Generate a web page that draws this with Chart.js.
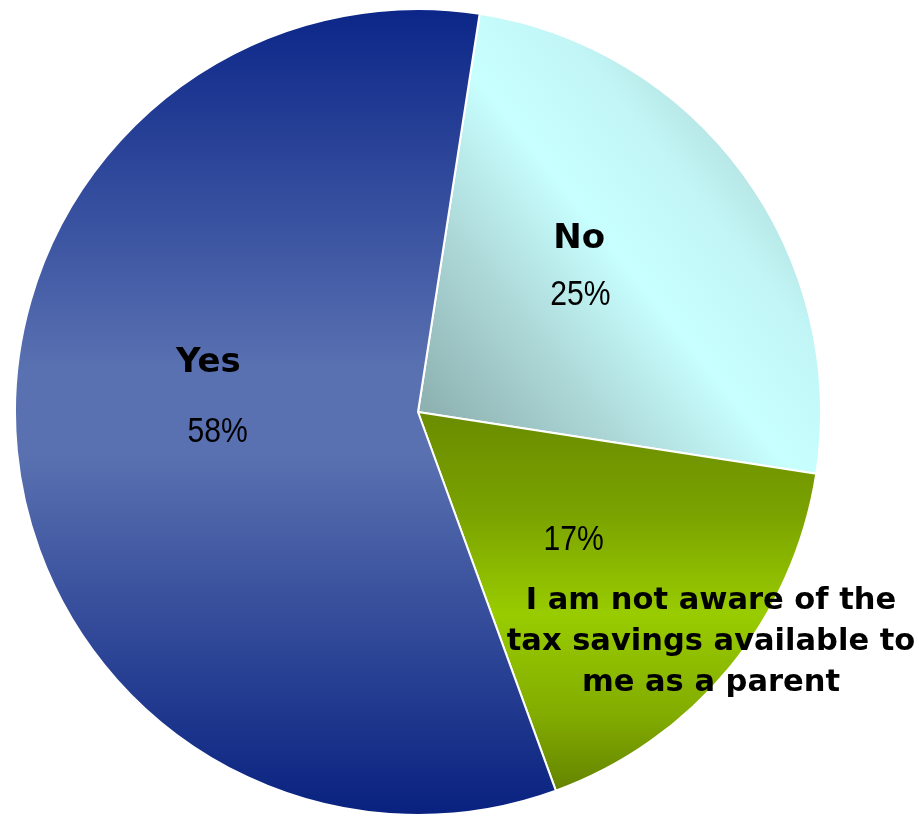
<!DOCTYPE html>
<html>
<head>
<meta charset="utf-8">
<script src="https://cdn.jsdelivr.net/npm/chart.js@4"></script>
<style>
html,body{margin:0;padding:0;background:#fff;}
#wrap{width:919px;height:817px;}
</style>
</head>
<body>
<div id="wrap"><canvas id="c" width="919" height="817"></canvas></div>
<script>
const categories = ["No", "I am not aware of the tax savings available to me as a parent", "Yes"];
const values = [25, 17, 58];
const percentLabels = ["25%", "17%", "58%"];

// label layout (offsets relative to pie centre, in units of radius)
const labelLayout = [
  {name: ["No"], nameSize: 34, nx: 0.40, ny: -0.43, px: 0.403, py: -0.29},
  {name: ["I am not aware of the", "tax savings available to", "me as a parent"], nameSize: 30.5, nx: 0.727, ny: 0.57, px: 0.386, py: 0.319},
  {name: ["Yes"], nameSize: 34, nx: -0.52, ny: -0.12, px: -0.497, py: 0.05}
];

function grad(ctx, area, kind){
  const c = ctx.chart.ctx;
  const cx = (area.left+area.right)/2, cy = (area.top+area.bottom)/2;
  const R = Math.min(area.right-area.left, area.bottom-area.top)/2;
  let g;
  if(kind===0){
    g = c.createLinearGradient(cx, cy, cx+0.85*R, cy-0.68*R);
    g.addColorStop(0, "#8cafaf");
    g.addColorStop(0.3, "#acd6d6");
    g.addColorStop(0.58, "#c8ffff");
    g.addColorStop(0.8, "#c2f6f6");
    g.addColorStop(1, "#b0dcdc");
  } else if(kind===1){
    g = c.createLinearGradient(0, cy, 0, cy+R);
    g.addColorStop(0, "#6a8c00");
    g.addColorStop(0.25, "#7aa200");
    g.addColorStop(0.5, "#99cc00");
    g.addColorStop(0.75, "#82ac00");
    g.addColorStop(1, "#5a7600");
  } else {
    g = c.createLinearGradient(0, cy-R, 0, cy+R);
    g.addColorStop(0, "#0b2688");
    g.addColorStop(0.45, "#5a71b1");
    g.addColorStop(0.55, "#5a71b1");
    g.addColorStop(1, "#08217f");
  }
  return g;
}

const labelPlugin = {
  id: "labels",
  afterDatasetsDraw(chart){
    const ctx = chart.ctx;
    const arc = chart.getDatasetMeta(0).data[0];
    const cx = arc.x, cy = arc.y, R = arc.outerRadius;
    ctx.save();
    ctx.fillStyle = "#000";
    ctx.textAlign = "center";
    ctx.textBaseline = "middle";
    labelLayout.forEach((L, i) => {
      ctx.font = "bold " + L.nameSize + "px 'DejaVu Sans'";
      const lh = 41;
      L.name.forEach((t, k) => {
        ctx.fillText(t, cx + L.nx*R, cy + L.ny*R + (k-(L.name.length-1)/2)*lh);
      });
      ctx.font = "35px 'Liberation Sans'";
      ctx.save();
      ctx.translate(cx + L.px*R, cy + L.py*R);
      ctx.scale(0.86, 1);
      ctx.fillText(percentLabels[i], 0, 0);
      ctx.restore();
    });
    ctx.restore();
  }
};

new Chart(document.getElementById("c"), {
  type: "pie",
  data: {
    labels: categories,
    datasets: [{
      data: values,
      backgroundColor: (ctx) => {
        const area = ctx.chart.chartArea;
        if(!area) return "#888";
        return grad(ctx, area, ctx.dataIndex);
      },
      borderColor: "#ffffff",
      borderWidth: 2
    }]
  },
  options: {
    responsive: false,
    animation: false,
    rotation: 8.8,
    layout: {padding: {left: 14, right: 97, top: 8, bottom: 1}},
    plugins: {legend: {display: false}, tooltip: {enabled: false}}
  },
  plugins: [labelPlugin]
});
</script>
</body>
</html>
